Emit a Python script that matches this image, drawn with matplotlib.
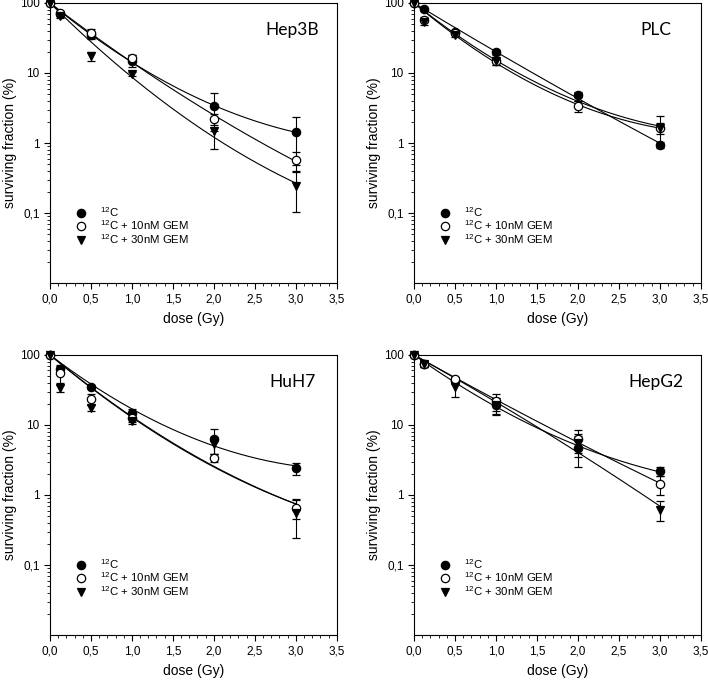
import numpy as np
import matplotlib.pyplot as plt
from matplotlib.lines import Line2D

plt.rcParams['font.family'] = ['Liberation Sans', 'DejaVu Sans']
plt.rcParams['mathtext.default'] = 'regular'

# dose points (Gy)
dose = [0, 0.125, 0.5, 1.0, 2.0, 3.0]
cell_lines = ['Hep3B', 'PLC', 'HuH7', 'HepG2']
labels = ['$^{12}$C', '$^{12}$C + 10nM GEM', '$^{12}$C + 30nM GEM']

# surviving fraction (%) per series: 12C, +10nM GEM, +30nM GEM
hep3b_sf = [[100, 69, 35, 15, 3.35, 1.43],
            [100, 73, 37, 16.3, 2.2, 0.57],
            [100, 65, 17.3, 9.8, 1.48, 0.245]]
hep3b_err = [[0, 4, 4, 3, 1.85, 0.95],
             [0, 4, 5, 2, 0.4, 0.17],
             [0, 4, 2.7, 0.6, 0.67, 0.14]]

plc_sf = [[100, 81, 38, 19.7, 4.9, 0.95],
          [100, 58, 37, 14.6, 3.4, 1.65],
          [100, 53, 35, 14.6, 4.5, 1.65]]
plc_err = [[0, 3, 2, 1.5, 0.4, 0.1],
           [0, 5, 2, 1.5, 0.6, 0.3],
           [0, 5, 2, 1.5, 0.5, 0.75]]

huh7_sf = [[100, 63, 35.4, 14.8, 6.3, 2.4],
           [100, 55, 23.4, 12.7, 3.4, 0.66],
           [100, 33.6, 17.5, 11.3, 5.3, 0.56]]
huh7_err = [[0, 8, 2, 2, 2.5, 0.5],
            [0, 15, 4, 1.5, 0.4, 0.2],
            [0, 4, 1.5, 1, 1.5, 0.32]]

hepg2_sf = [[100, 74.5, 42, 19.4, 4.7, 2.19],
            [100, 75, 45, 21.7, 6.3, 1.42],
            [100, 75, 35.4, 19, 5.5, 0.62]]
hepg2_err = [[0, 8, 3, 5, 2.2, 0.3],
             [0, 8, 3, 6, 2.3, 0.42],
             [0, 8, 10, 5, 2, 0.2]]

sf_all = [hep3b_sf, plc_sf, huh7_sf, hepg2_sf]
err_all = [hep3b_err, plc_err, huh7_err, hepg2_err]

markers = ['o', 'o', 'v']
faces = ['black', 'white', 'black']

fig = plt.figure(figsize=(7.08, 6.80), dpi=100)
positions = [[0.0706, 0.5838, 0.405, 0.4118],
             [0.5847, 0.5838, 0.405, 0.4118],
             [0.0706, 0.0662, 0.405, 0.4118],
             [0.5847, 0.0662, 0.405, 0.4118]]

d = np.array(dose)
dfit = np.linspace(0, 3, 200)
xt = np.arange(0, 3.51, 0.5)

for k, name in enumerate(cell_lines):
    ax = fig.add_axes(positions[k])
    for i in range(3):
        sf = np.array(sf_all[k][i])
        # linear-quadratic fit of log survival
        A = np.column_stack([d, d ** 2])
        coef = np.linalg.lstsq(A, -np.log(sf / 100), rcond=None)[0]
        ax.plot(dfit, 100 * np.exp(-(coef[0] * dfit + coef[1] * dfit ** 2)),
                color='black', lw=0.8, zorder=2)
        eb = ax.errorbar(dose, sf, yerr=err_all[k][i], fmt=markers[i], color='black',
                         mfc=faces[i], mec='black', ms=6, mew=0.9, ecolor='black',
                         elinewidth=0.8, capsize=3, capthick=0.8, zorder=3)
        eb[0].set_clip_on(False)
    ax.set_yscale('log')
    ax.set_ylim(0.01, 100)
    ax.set_xlim(0, 3.5)
    ax.set_yticks([0.1, 1, 10, 100])
    ax.set_yticklabels(['0,1', '1', '10', '100'])
    ax.set_xticks(xt)
    ax.set_xticklabels([f'{v:.1f}'.replace('.', ',') for v in xt])
    ax.set_xticks(np.arange(0, 3.51, 0.1), minor=True)
    ax.tick_params(axis='both', which='major', labelsize=8.5, length=4, width=0.8)
    ax.tick_params(axis='both', which='minor', length=2, width=0.6)
    ax.tick_params(axis='y', which='minor', labelleft=False)
    for s in ax.spines.values():
        s.set_linewidth(0.8)
    ax.set_xlabel('dose (Gy)', fontsize=10, labelpad=5)
    ax.set_ylabel('surviving fraction (%)', fontsize=10, labelpad=2)
    ax.text(0.845, 0.905, name, transform=ax.transAxes, fontsize=12.5,
            family=['Lato', 'DejaVu Sans'], ha='center', va='center')
    handles = [Line2D([], [], ls='', marker=markers[i], mfc=faces[i], mec='black',
                      ms=6, mew=0.9) for i in range(3)]
    ax.legend(handles, labels, loc='lower left', bbox_to_anchor=(0.05, 0.095),
              frameon=False, fontsize=8.2, handletextpad=1.0, labelspacing=0.0,
              handlelength=1.2)

fig.savefig('out.png', dpi=100)
